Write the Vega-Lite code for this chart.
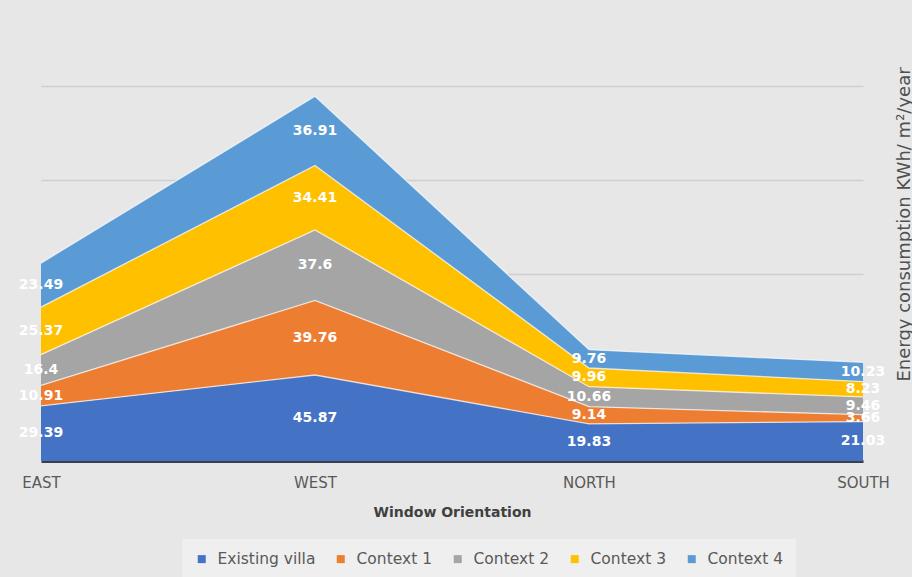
{
  "$schema": "https://vega.github.io/schema/vega-lite/v6.json",
  "width": 822,
  "height": 375,
  "autosize": "none",
  "padding": {"left": 41, "top": 86, "right": 49, "bottom": 116},
  "background": "#e7e7e7",
  "config": {
    "view": {"stroke": null},
    "font": "DejaVu Sans",
    "axisY": {
      "orient": "right",
      "labels": false,
      "ticks": false,
      "domain": false,
      "grid": true,
      "gridColor": "#cfcfcf",
      "gridWidth": 1.5,
      "titleAngle": 270,
      "titleAlign": "center",
      "titleBaseline": "alphabetic",
      "titleX": 46,
      "titleY": 138,
      "titleFont": "DejaVu Sans",
      "titleFontSize": 18,
      "titleFontWeight": "normal",
      "titleColor": "#505050"
    }
  },
  "data": {
    "values": [
      {"orientation": "EAST", "series": "Existing villa", "energy": 29.39},
      {"orientation": "EAST", "series": "Context 1", "energy": 10.91},
      {"orientation": "EAST", "series": "Context 2", "energy": 16.4},
      {"orientation": "EAST", "series": "Context 3", "energy": 25.37},
      {"orientation": "EAST", "series": "Context 4", "energy": 23.49},
      {"orientation": "WEST", "series": "Existing villa", "energy": 45.87},
      {"orientation": "WEST", "series": "Context 1", "energy": 39.76},
      {"orientation": "WEST", "series": "Context 2", "energy": 37.6},
      {"orientation": "WEST", "series": "Context 3", "energy": 34.41},
      {"orientation": "WEST", "series": "Context 4", "energy": 36.91},
      {"orientation": "NORTH", "series": "Existing villa", "energy": 19.83},
      {"orientation": "NORTH", "series": "Context 1", "energy": 9.14},
      {"orientation": "NORTH", "series": "Context 2", "energy": 10.66},
      {"orientation": "NORTH", "series": "Context 3", "energy": 9.96},
      {"orientation": "NORTH", "series": "Context 4", "energy": 9.76},
      {"orientation": "SOUTH", "series": "Existing villa", "energy": 21.03},
      {"orientation": "SOUTH", "series": "Context 1", "energy": 3.66},
      {"orientation": "SOUTH", "series": "Context 2", "energy": 9.46},
      {"orientation": "SOUTH", "series": "Context 3", "energy": 8.23},
      {"orientation": "SOUTH", "series": "Context 4", "energy": 10.23}
    ]
  },
  "transform": [
    {"calculate": "indexof(['Existing villa','Context 1','Context 2','Context 3','Context 4'], datum.series)", "as": "rank"},
    {"stack": "energy", "groupby": ["orientation"], "sort": [{"field": "rank", "order": "ascending"}], "as": ["y0", "y1"]},
    {"calculate": "(datum.y0 + datum.y1) / 2", "as": "ymid"}
  ],
  "encoding": {
    "x": {
      "field": "orientation",
      "type": "nominal",
      "sort": ["EAST", "WEST", "NORTH", "SOUTH"],
      "scale": {"type": "point", "padding": 0},
      "axis": {
        "title": "Window Orientation",
        "labelAngle": 0,
        "labelFont": "DejaVu Sans",
        "labelFontSize": 15,
        "labelColor": "#595959",
        "labelPadding": 14,
        "ticks": false,
        "grid": false,
        "domainColor": "#3a3f4a",
        "domainWidth": 3,
        "titleFont": "DejaVu Sans",
        "titleFontSize": 14,
        "titleFontWeight": "bold",
        "titleColor": "#404040",
        "titlePadding": 15
      }
    }
  },
  "layer": [
    {
      "mark": {"type": "area", "opacity": 1},
      "encoding": {
        "y": {
          "field": "y0",
          "type": "quantitative",
          "scale": {"domain": [0, 200], "nice": false},
          "title": "Energy consumption KWh/ m²/year",
          "axis": {"values": [50, 100, 150, 200]}
        },
        "y2": {"field": "y1"},
        "color": {
          "field": "series",
          "type": "nominal",
          "scale": {
            "domain": ["Existing villa", "Context 1", "Context 2", "Context 3", "Context 4"],
            "range": ["#4472c4", "#ed7d31", "#a5a5a5", "#ffc000", "#5b9bd5"]
          },
          "legend": {
            "title": null,
            "orient": "none",
            "direction": "horizontal",
            "legendX": 141,
            "legendY": 453,
            "padding": 12,
            "fillColor": "#efefef",
            "symbolType": "square",
            "symbolSize": 64,
            "symbolStrokeWidth": 0,
            "labelFont": "DejaVu Sans",
            "labelFontSize": 15.5,
            "labelColor": "#595959",
            "labelOffset": 8,
            "columnPadding": 17
          }
        }
      }
    },
    {
      "mark": {"type": "line", "color": "#ffffff", "strokeWidth": 1.3, "opacity": 0.7},
      "encoding": {
        "y": {"field": "y1", "type": "quantitative", "title": "Energy consumption KWh/ m²/year", "axis": {"values": [50, 100, 150, 200]}},
        "detail": {"field": "series", "type": "nominal"}
      }
    },
    {
      "mark": {"type": "text", "color": "#ffffff", "font": "DejaVu Sans", "fontSize": 14, "fontWeight": "bold", "baseline": "middle", "align": "center"},
      "encoding": {
        "y": {"field": "ymid", "type": "quantitative", "title": "Energy consumption KWh/ m²/year", "axis": {"values": [50, 100, 150, 200]}},
        "text": {"field": "energy", "type": "quantitative", "format": ""}
      }
    }
  ]
}
